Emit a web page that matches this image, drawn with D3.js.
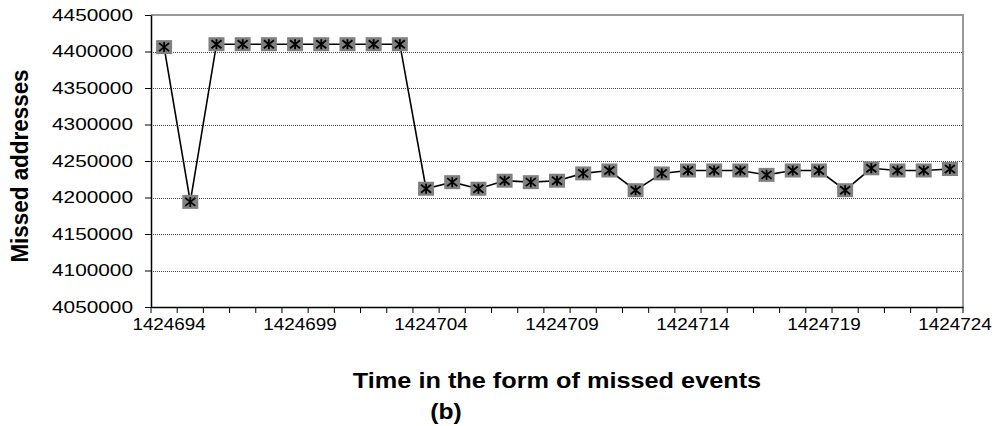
<!DOCTYPE html>
<html>
<head>
<meta charset="utf-8">
<script src="https://cdn.jsdelivr.net/npm/d3@7"></script>
<style>
  html, body { margin: 0; padding: 0; background: #fff; }
  svg { display: block; font-family: "Liberation Sans", Arial, sans-serif; }
</style>
</head>
<body>
<svg id="chart" width="997" height="426"></svg>
<script>
// Missed events (x categories) and the number of missed addresses at each one
const missedEvents = [
  1424694, 1424695, 1424696, 1424697, 1424698, 1424699, 1424700, 1424701,
  1424702, 1424703, 1424704, 1424705, 1424706, 1424707, 1424708, 1424709,
  1424710, 1424711, 1424712, 1424713, 1424714, 1424715, 1424716, 1424717,
  1424718, 1424719, 1424720, 1424721, 1424722, 1424723, 1424724
];
const missedAddresses = [
  4406000, 4194000, 4410000, 4410000, 4410000, 4410000, 4410000, 4410000,
  4410000, 4410000, 4212000, 4221000, 4212000, 4223000, 4221000, 4223000,
  4233000, 4237000, 4210000, 4233000, 4237000, 4237000, 4237000, 4231000,
  4237000, 4237000, 4210000, 4240000, 4237000, 4237000, 4239000
];
const xTickLabels = [1424694, 1424699, 1424704, 1424709, 1424714, 1424719, 1424724];
const yTickValues = [4050000, 4100000, 4150000, 4200000, 4250000, 4300000, 4350000, 4400000, 4450000];

const plot = { left: 151, right: 963, top: 15, bottom: 307 };

const svg = d3.select("#chart");

const x = d3.scaleBand().domain(missedEvents).range([plot.left, plot.right]).padding(0);
const y = d3.scaleLinear().domain([4050000, 4450000]).range([plot.bottom, plot.top]);

// dotted horizontal gridlines
svg.append("g")
  .selectAll("line")
  .data(yTickValues.filter(v => v > 4050000 && v < 4450000))
  .join("line")
  .attr("x1", plot.left).attr("x2", plot.right)
  .attr("y1", d => Math.round(y(d)) + 0.5).attr("y2", d => Math.round(y(d)) + 0.5)
  .attr("stroke", "#444").attr("stroke-width", 1).attr("stroke-dasharray", "1,1");

// plot area frame (top and right sides grey)
svg.append("path")
  .attr("d", `M${plot.left},${plot.top}H${plot.right}V${plot.bottom}`)
  .attr("fill", "none").attr("stroke", "#999").attr("stroke-width", 2);

// y axis
const yStretch = 1.3;
const yAxis = svg.append("g")
  .attr("transform", `translate(${plot.left},0)`)
  .call(d3.axisLeft(y).tickValues(yTickValues).tickSize(6).tickSizeOuter(0).tickFormat(d3.format("d")));
yAxis.select(".domain").attr("stroke", "#000").attr("stroke-width", 1.5);
yAxis.selectAll(".tick line").attr("stroke", "#000");
yAxis.selectAll(".tick text")
  .attr("font-size", 16).attr("fill", "#000")
  .attr("font-family", "Liberation Sans, Arial, sans-serif")
  .attr("x", -18 / yStretch)
  .attr("transform", `scale(${yStretch},1)`);

// x axis: labels every fifth event, tick marks on the category boundaries
const xStretch = 1.18;
const xAxis = svg.append("g")
  .attr("transform", `translate(0,${plot.bottom})`)
  .call(d3.axisBottom(x).tickValues(xTickLabels).tickSize(0).tickPadding(12));
xAxis.select(".domain").attr("stroke", "#000").attr("stroke-width", 1.5);
xAxis.selectAll(".tick text")
  .attr("font-size", 16).attr("fill", "#000")
  .attr("font-family", "Liberation Sans, Arial, sans-serif")
  .attr("x", 5 / xStretch)
  .attr("transform", `scale(${xStretch},1)`);

const edges = missedEvents.map(d => x(d)).concat([plot.right]);
svg.append("g")
  .selectAll("line")
  .data(edges)
  .join("line")
  .attr("x1", d => d).attr("x2", d => d)
  .attr("y1", plot.bottom).attr("y2", plot.bottom + 6)
  .attr("stroke", "#000").attr("stroke-width", 1);

// series line
const pts = missedEvents.map((e, i) => [x(e) + x.bandwidth() / 2, y(missedAddresses[i])]);
svg.append("path")
  .datum(pts)
  .attr("d", d3.line())
  .attr("fill", "none").attr("stroke", "#000").attr("stroke-width", 1.6);

// markers: grey square with black asterisk
const mk = svg.append("g")
  .selectAll("g")
  .data(pts)
  .join("g")
  .attr("transform", d => `translate(${d[0]},${d[1]})`);
mk.append("rect")
  .attr("x", -8).attr("y", -7).attr("width", 16).attr("height", 14)
  .attr("fill", "#808080");
mk.append("path")
  .attr("d", "M-5,-4L5,4M-5,4L5,-4M0,-5V5")
  .attr("stroke", "#000").attr("stroke-width", 1.8).attr("fill", "none");

// axis titles
svg.append("text")
  .attr("transform", `translate(${(plot.left + plot.right) / 2},388) scale(1.15,1)`)
  .attr("text-anchor", "middle")
  .attr("font-size", 22).attr("font-weight", "bold")
  .text("Time in the form of missed events");

svg.append("text")
  .attr("transform", `translate(28,166) rotate(-90) scale(1.02,1.12)`)
  .attr("text-anchor", "middle")
  .attr("font-size", 22).attr("font-weight", "bold")
  .text("Missed addresses");

svg.append("text")
  .attr("transform", `translate(446,419) scale(1.12,1)`)
  .attr("text-anchor", "middle")
  .attr("font-size", 22).attr("font-weight", "bold")
  .text("(b)");
</script>
</body>
</html>
